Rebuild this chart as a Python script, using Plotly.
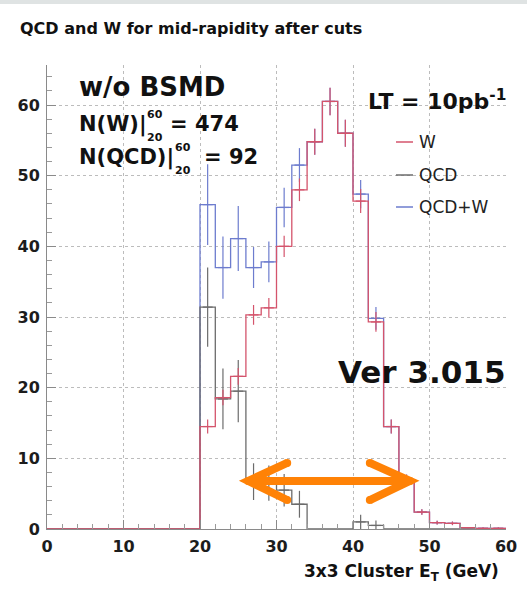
import plotly.graph_objects as go

# ---- histogram content: 2 GeV bins from 0 to 60 GeV ----
bin_edges = [0, 2, 4, 6, 8, 10, 12, 14, 16, 18, 20, 22, 24, 26, 28, 30,
             32, 34, 36, 38, 40, 42, 44, 46, 48, 50, 52, 54, 56, 58, 60]

w_counts = [0, 0, 0, 0, 0, 0, 0, 0, 0, 0,
            14.5, 18.6, 21.6, 30.3, 31.3, 40.0, 48.0, 54.8, 60.5, 56.0,
            46.4, 29.3, 14.5, 7.0, 2.4, 0.9, 0.8, 0.2, 0.1, 0.1]
w_errors = [0, 0, 0, 0, 0, 0, 0, 0, 0, 0,
            1.0, 1.1, 1.2, 1.4, 1.4, 1.5, 1.6, 1.85, 1.95, 1.9,
            1.7, 1.4, 1.0, 0.7, 0.4, 0.25, 0.25, 0.1, 0.1, 0.1]

qcd_counts = [0, 0, 0, 0, 0, 0, 0, 0, 0, 0,
              31.4, 18.4, 19.5, 6.7, 6.5, 5.5, 3.5, 0, 0, 0,
              1.0, 0.5, 0, 0, 0, 0, 0, 0, 0, 0]
qcd_errors = [0, 0, 0, 0, 0, 0, 0, 0, 0, 0,
              5.6, 4.3, 4.4, 2.6, 2.5, 2.3, 1.9, 0, 0, 0,
              1.0, 0.7, 0, 0, 0, 0, 0, 0, 0, 0]

sum_counts = [0, 0, 0, 0, 0, 0, 0, 0, 0, 0,
              45.9, 37.0, 41.1, 37.0, 37.8, 45.5, 51.5, 54.8, 60.5, 56.0,
              47.4, 29.8, 14.5, 7.0, 2.4, 0.9, 0.8, 0.2, 0.1, 0.1]
sum_errors = [0, 0, 0, 0, 0, 0, 0, 0, 0, 0,
              5.7, 4.4, 4.6, 2.9, 2.9, 2.8, 2.4, 1.85, 1.95, 1.9,
              2.0, 1.6, 1.0, 0.7, 0.4, 0.25, 0.25, 0.1, 0.1, 0.1]

x_ticks = [0, 10, 20, 30, 40, 50, 60]
y_ticks = [0, 10, 20, 30, 40, 50, 60]

W_COLOR = "#d4546c"
QCD_COLOR = "#6c6c6c"
SUM_COLOR = "#6d7cce"
ARROW_COLOR = "#ff8206"
FONT = "DejaVu Sans"

# frame of the plotting area in pixels
L, R, T, B = 47, 506, 65, 529
WIDTH, HEIGHT = 527, 590


def px_x(px):
    return (px - L) / (R - L)


def px_y(py):
    return (B - py) / (B - T)


def step_trace(counts, color, name):
    return go.Scatter(
        x=bin_edges, y=counts + [counts[-1]], mode="lines",
        line=dict(shape="hv", color=color, width=1.3),
        name=name, hoverinfo="skip")


def error_trace(counts, errors, color):
    xs, ys, es = [], [], []
    for i, c in enumerate(counts):
        if c > 0:
            xs.append((bin_edges[i] + bin_edges[i + 1]) / 2)
            ys.append(c)
            es.append(errors[i])
    return go.Scatter(
        x=xs, y=ys, mode="markers", marker=dict(size=1, color=color),
        error_y=dict(type="data", array=es, color=color, thickness=1.2, width=0),
        error_x=dict(type="constant", value=0.65, color=color, thickness=1.2, width=0),
        hoverinfo="skip", showlegend=False)


fig = go.Figure()
fig.add_trace(step_trace(sum_counts, SUM_COLOR, "QCD+W"))
fig.add_trace(error_trace(sum_counts, sum_errors, SUM_COLOR))
fig.add_trace(step_trace(qcd_counts, QCD_COLOR, "QCD"))
fig.add_trace(error_trace(qcd_counts, qcd_errors, QCD_COLOR))
fig.add_trace(step_trace(w_counts, W_COLOR, "W"))
fig.add_trace(error_trace(w_counts, w_errors, W_COLOR))

# orange double-headed arrow marking the signal window
arrow_pts_x = [26.3, 31.4, 31.4, 47.45, 42.2, 42.2]
arrow_pts_y = [6.8, 9.35, 4.1, 6.8, 9.35, 4.1]
fig.add_shape(type="path", xref="x", yref="y",
              path=(f"M {arrow_pts_x[0]},{arrow_pts_y[0]} L {arrow_pts_x[3]},{arrow_pts_y[3]} "
                    f"M {arrow_pts_x[1]},{arrow_pts_y[1]} L {arrow_pts_x[0]},{arrow_pts_y[0]} "
                    f"L {arrow_pts_x[2]},{arrow_pts_y[2]} "
                    f"M {arrow_pts_x[4]},{arrow_pts_y[4]} L {arrow_pts_x[3]},{arrow_pts_y[3]} "
                    f"L {arrow_pts_x[5]},{arrow_pts_y[5]}"),
              line=dict(color=ARROW_COLOR, width=8))
fig.add_trace(go.Scatter(x=arrow_pts_x, y=arrow_pts_y, mode="markers",
                         marker=dict(size=8, color=ARROW_COLOR),
                         hoverinfo="skip", showlegend=False, cliponaxis=False))

axis_common = dict(
    showline=True, linecolor="#8a8a8a", linewidth=1,
    showgrid=True, gridcolor="#bcbcbc", griddash="dot", gridwidth=1,
    zeroline=False, ticks="inside", ticklen=9, tickcolor="#8a8a8a",
    ticklabelposition="outside", automargin=False,
    minor=dict(dtick=2, ticks="inside", ticklen=5, tickcolor="#9a9a9a", showgrid=False),
)

fig.update_xaxes(range=[0, 60], tickvals=x_ticks, ticktext=[str(v) for v in x_ticks],
                 tickfont=dict(family=FONT, size=16, color="#1c1c1c", weight="bold"),
                 ticklabelstandoff=3, **axis_common)
fig.update_yaxes(range=[0, 65.66], tickvals=y_ticks, ticktext=[str(v) for v in y_ticks],
                 tickfont=dict(family=FONT, size=16, color="#1c1c1c", weight="bold"),
                 ticklabelstandoff=3, **axis_common)


def label(text, px, py, size, bold=True, anchor="left", color="#111111"):
    fig.add_annotation(text=text, x=px_x(px), y=px_y(py), xref="paper", yref="paper",
                       xanchor=anchor, yanchor="middle", showarrow=False,
                       font=dict(family=FONT, size=size, color=color,
                                 weight="bold" if bold else "normal"))


label("QCD and W for mid-rapidity after cuts", 18, 29, 16)
label("w/o BSMD", 77, 87, 26)
label("N(W)|", 77, 124, 21)
label("60", 145, 114, 11)
label("20", 145, 137, 11)
label("= 474", 168, 124, 21)
label("N(QCD)|", 77, 157, 21)
label("60", 173, 147, 11)
label("20", 173, 170, 11)
label("= 92", 202, 157, 21)
label("LT = 10pb<sup>-1</sup>", 366, 100, 22)
label("Ver 3.015", 336, 372, 31)
label("3x3 Cluster E<sub>T</sub> (GeV)", 501, 572, 17, anchor="right")

# legend entries
for text, color, py in [("W", W_COLOR, 142), ("QCD", QCD_COLOR, 175), ("QCD+W", SUM_COLOR, 207)]:
    fig.add_shape(type="line", xref="paper", yref="paper",
                  x0=px_x(396), x1=px_x(413), y0=px_y(py), y1=px_y(py),
                  line=dict(color=color, width=1.5))
    label(text, 417, py, 17, bold=False, color="#222222")

# light strip along the top edge
fig.add_shape(type="rect", xref="paper", yref="paper", layer="below",
              x0=px_x(0), x1=px_x(WIDTH), y0=px_y(4), y1=px_y(0),
              fillcolor="#dfe3e3", line=dict(width=0))

fig.update_layout(
    width=WIDTH, height=HEIGHT, showlegend=False,
    margin=dict(l=L, r=WIDTH - R, t=T, b=HEIGHT - B),
    paper_bgcolor="white", plot_bgcolor="white",
)

fig.write_html("out.html")
